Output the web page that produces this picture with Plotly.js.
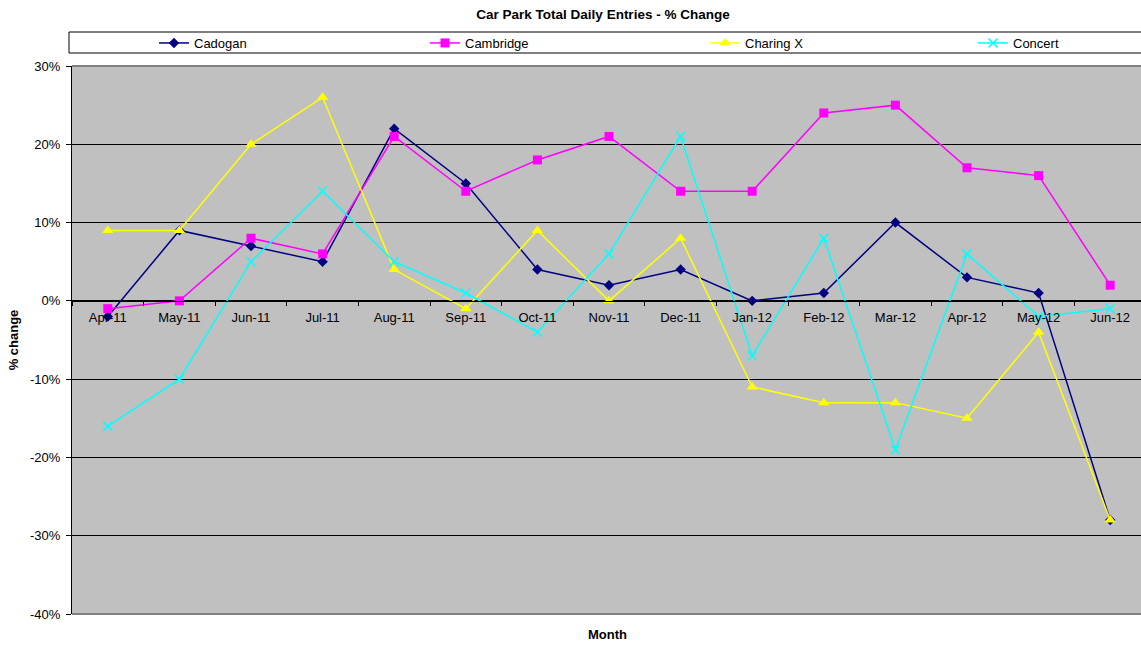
<!DOCTYPE html>
<html>
<head>
<meta charset="utf-8">
<script src="https://cdn.plot.ly/plotly-3.0.1.min.js"></script>
<style>
  html, body { margin: 0; padding: 0; background: #ffffff; overflow: hidden; }
  #chart { width: 1141px; height: 647px; }
</style>
</head>
<body>
<div id="chart"></div>
<script>
// Monthly % change in total daily entries, per car park
const months = ["Apr-11", "May-11", "Jun-11", "Jul-11", "Aug-11", "Sep-11", "Oct-11",
                "Nov-11", "Dec-11", "Jan-12", "Feb-12", "Mar-12", "Apr-12", "May-12", "Jun-12"];
const cadogan   = [-2, 9, 7, 5, 22, 15, 4, 2, 4, 0, 1, 10, 3, 1, -28];
const cambridge = [-1, 0, 8, 6, 21, 14, 18, 21, 14, 14, 24, 25, 17, 16, 2];
const charingX  = [9, 9, 20, 26, 4, -1, 9, 0, 8, -11, -13, -13, -15, -4, -28];
const concert   = [-16, -10, 5, 14, 5, 1, -4, 6, 21, -7, 8, -19, 6, -2, -1];

// Y axis ticks, written with a plain hyphen for negatives
const yTickValues = [-40, -30, -20, -10, 0, 10, 20, 30];
const yTickLabels = ["-40%", "-30%", "-20%", "-10%", "0%", "10%", "20%", "30%"];

const FONT = "Arial, 'Liberation Sans', sans-serif";

function series(name, values, color, symbol, size, legendId) {
  return {
    type: "scatter",
    mode: "lines+markers",
    name: name,
    legend: legendId,
    x: months,
    y: values,
    line: { color: color, width: 1.5 },
    marker: { color: color, symbol: symbol, size: size,
              line: { color: color, width: symbol === "x-thin" ? 1.5 : 0 } },
    hoverinfo: "x+y+name"
  };
}

const traces = [
  series("Cadogan", cadogan, "#000080", "diamond", 8, "legend"),
  series("Cambridge", cambridge, "#FF00FF", "square", 9, "legend2"),
  series("Charing X", charingX, "#FFFF00", "triangle-up", 10, "legend3"),
  series("Concert", concert, "#00FFFF", "x-thin", 9, "legend4")
];

// One legend box per series, spread along the strip above the plot
function legendAt(px) {
  return {
    orientation: "h",
    xref: "container",
    yref: "container",
    x: px / 1141,
    xanchor: "left",
    y: 1 - 43 / 647,
    yanchor: "middle",
    bgcolor: "rgba(0,0,0,0)",
    borderwidth: 0,
    font: { family: FONT, size: 13, color: "#000000" }
  };
}

const layout = {
  width: 1141,
  height: 647,
  margin: { l: 72, r: 0, t: 66, b: 33, pad: 0 },
  paper_bgcolor: "#ffffff",
  plot_bgcolor: "#C0C0C0",
  font: { family: FONT, size: 13, color: "#000000" },
  title: {
    text: "<b>Car Park Total Daily Entries - % Change</b>",
    font: { family: FONT, size: 13.5, color: "#000000" },
    xref: "container",
    x: 603 / 1141, xanchor: "center",
    yref: "container",
    y: 1 - 14 / 647, yanchor: "middle"
  },
  xaxis: {
    type: "category",
    range: [-0.5, 14.43],
    anchor: "free",
    position: 40 / 70,
    showline: true,
    linecolor: "#000000",
    linewidth: 1,
    showgrid: false,
    zeroline: false,
    tickson: "boundaries",
    ticks: "outside",
    ticklen: 4,
    tickcolor: "#000000",
    ticklabelstandoff: 5,
    tickfont: { family: FONT, size: 13, color: "#000000" },
    fixedrange: true
  },
  yaxis: {
    range: [-40, 30],
    tickmode: "array",
    tickvals: yTickValues,
    ticktext: yTickLabels,
    showline: true,
    linecolor: "#000000",
    linewidth: 1,
    showgrid: true,
    gridcolor: "#000000",
    gridwidth: 1,
    zeroline: false,
    ticks: "outside",
    ticklen: 5,
    tickcolor: "#000000",
    ticklabelstandoff: 3,
    tickfont: { family: FONT, size: 13, color: "#000000" },
    title: {
      text: "<b>% change</b>",
      font: { family: FONT, size: 13, color: "#000000" },
      standoff: 8
    },
    fixedrange: true
  },
  showlegend: true,
  legend: legendAt(154),
  legend2: legendAt(425),
  legend3: legendAt(705),
  legend4: legendAt(973),
  annotations: [
    {
      text: "<b>Month</b>",
      xref: "paper", yref: "paper",
      x: (607 - 72) / 1069, y: -(635 - 614.3) / 548.3,
      xanchor: "center", yanchor: "middle",
      showarrow: false,
      font: { family: FONT, size: 13, color: "#000000" }
    }
  ],
  shapes: [
    // legend frame
    {
      type: "rect", xref: "paper", yref: "paper",
      x0: -3 / 1069, x1: 1.02, y0: 1 + 13 / 548, y1: 1 + 34 / 548,
      line: { color: "#000000", width: 1 }, fillcolor: "rgba(0,0,0,0)", layer: "below"
    },
    // plot area top and bottom edges
    {
      type: "line", xref: "paper", yref: "paper",
      x0: 0, x1: 1, y0: 1, y1: 1,
      line: { color: "#808080", width: 2 }
    },
    {
      type: "line", xref: "paper", yref: "paper",
      x0: 0, x1: 1, y0: 0, y1: 0,
      line: { color: "#808080", width: 2 }
    }
  ],
  hovermode: "closest"
};

Plotly.newPlot("chart", traces, layout, { displayModeBar: false });
</script>
</body>
</html>
